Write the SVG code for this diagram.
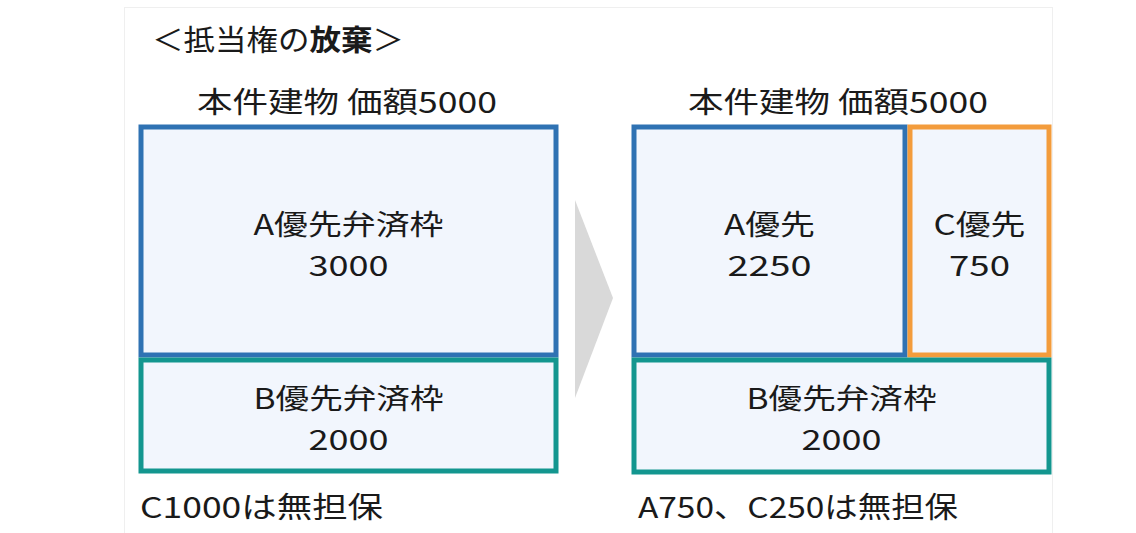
<svg xmlns="http://www.w3.org/2000/svg" width="1136" height="533" viewBox="0 0 1136 533">
<style>
text{font-family:"Noto Sans CJK JP","Noto Sans",sans-serif;fill:#1a1a1a}
.t{font-size:29px}
.m{font-size:28px}
.c{text-anchor:middle}
.box{fill:#f2f6fd;stroke-width:5}
.blue{stroke:#2f72b3}
.teal{stroke:#13968f}
.orange{stroke:#f39c3c}
</style>
<rect x="0" y="0" width="1136" height="533" fill="#ffffff"/>
<rect x="124.5" y="7.5" width="928" height="530" fill="#ffffff" stroke="#efefef" stroke-width="1"/>
<g id="title">
<text x="152" y="51" font-size="29" textLength="252" lengthAdjust="spacingAndGlyphs">＜抵当権の<tspan font-weight="bold">放棄</tspan>＞</text>
</g>
<g id="left">
<text class="t" x="197" y="113" textLength="300" lengthAdjust="spacingAndGlyphs">本件建物 価額5000</text>
<g id="leftA">
<rect class="box blue" x="141" y="127" width="415" height="228"/>
<text class="m c" x="348.5" y="235" textLength="190" lengthAdjust="spacingAndGlyphs">A優先弁済枠</text>
<text class="m c" x="348.5" y="276" textLength="80" lengthAdjust="spacingAndGlyphs">3000</text>
</g>
<g id="leftB">
<rect class="box teal" x="141" y="360" width="415" height="111"/>
<text class="m c" x="348.5" y="409" textLength="190" lengthAdjust="spacingAndGlyphs">B優先弁済枠</text>
<text class="m c" x="348.5" y="450" textLength="80" lengthAdjust="spacingAndGlyphs">2000</text>
</g>
<text class="t" x="140" y="518" textLength="243" lengthAdjust="spacingAndGlyphs">C1000は無担保</text>
</g>
<g id="connectors">
<polygon points="575,200 613,298 575,398" fill="#d9d9d9"/>
</g>
<g id="right">
<text class="t" x="688" y="113" textLength="300" lengthAdjust="spacingAndGlyphs">本件建物 価額5000</text>
<g id="rightA">
<rect class="box blue" x="634" y="127" width="271" height="228"/>
<text class="m c" x="769.5" y="235" textLength="91" lengthAdjust="spacingAndGlyphs">A優先</text>
<text class="m c" x="769.5" y="276" textLength="84" lengthAdjust="spacingAndGlyphs">2250</text>
</g>
<g id="rightC">
<rect class="box orange" x="910" y="127" width="139" height="228"/>
<text class="m c" x="979.5" y="235" textLength="92" lengthAdjust="spacingAndGlyphs">C優先</text>
<text class="m c" x="979.5" y="276" textLength="61" lengthAdjust="spacingAndGlyphs">750</text>
</g>
<g id="rightB">
<rect class="box teal" x="634" y="360" width="415" height="112"/>
<text class="m c" x="841.5" y="409" textLength="190" lengthAdjust="spacingAndGlyphs">B優先弁済枠</text>
<text class="m c" x="841.5" y="450" textLength="80" lengthAdjust="spacingAndGlyphs">2000</text>
</g>
<text class="t" x="638" y="518" textLength="320" lengthAdjust="spacingAndGlyphs">A750、C250は無担保</text>
</g>
</svg>
